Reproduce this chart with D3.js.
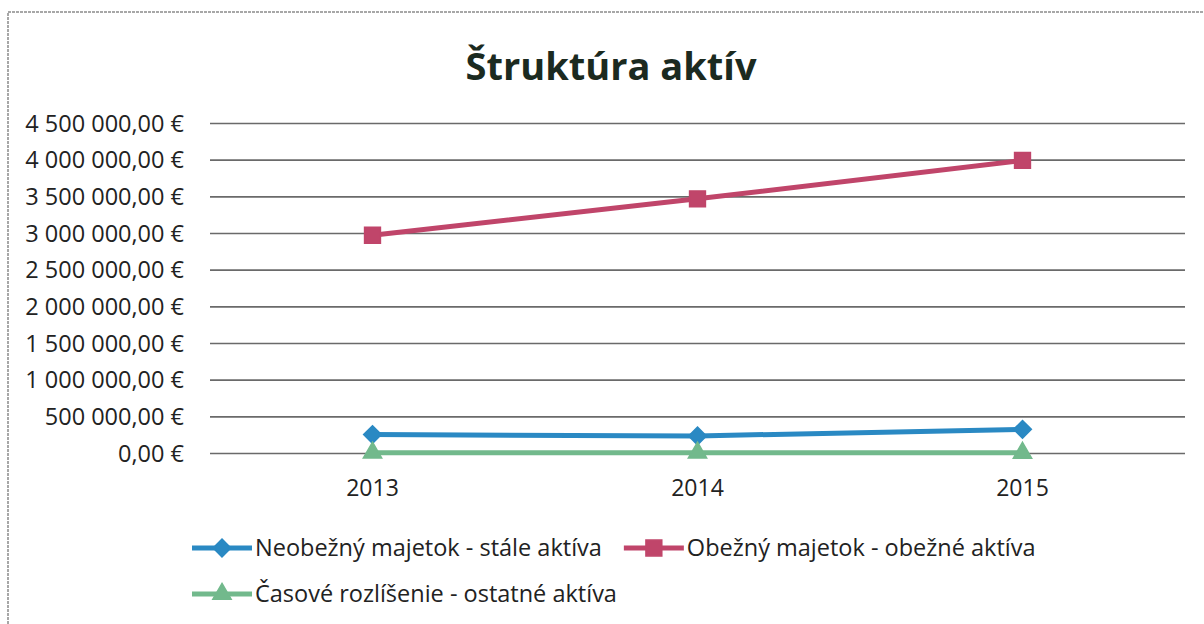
<!DOCTYPE html>
<html><head><meta charset="utf-8">
<script src="https://cdn.jsdelivr.net/npm/d3@7"></script>
<style>
html,body{margin:0;padding:0;background:#fff;}
svg{display:block;}
text{font-family:"Open Sans",sans-serif;}
</style></head>
<body><svg id="c" width="1204" height="624"></svg>
<script>
const title = "Štruktúra aktív";
const years = ["2013", "2014", "2015"];
const seriesNames = ["Neobežný majetok - stále aktíva", "Obežný majetok - obežné aktíva", "Časové rozlíšenie - ostatné aktíva"];
const neobezny = [251000, 232000, 323000];
const obezny = [2970000, 3466000, 3990000];
const casove = [4000, 3000, 2000];
const yTicks = [0, 500000, 1000000, 1500000, 2000000, 2500000, 3000000, 3500000, 4000000, 4500000];
const colors = ["#2a89c3", "#c0456a", "#72b98c"];
const markers = ["diamond", "square", "triangle"];

const svg = d3.select("#c");
const W = 1204, H = 624;
const m = {left: 210, right: 1185, top: 123, bottom: 453};

// border
svg.append("path").attr("d", `M8,${H}V12H${W}`).attr("fill","none")
  .attr("stroke","#8a8a8a").attr("stroke-width",1.5).attr("stroke-dasharray","3,1");

svg.append("text").attr("x", 611).attr("y", 80).attr("text-anchor","middle")
  .attr("font-size", 38).attr("font-weight", 700).attr("fill", "#1b2a20")
  .text(title);

const x = d3.scaleBand().domain(years).range([m.left, m.right]);
const y = d3.scaleLinear().domain([0, 4500000]).range([m.bottom, m.top]);

const fmt = v => {
  const s = d3.format(",.2f")(v);
  return s.replace(/,/g, " ").replace(".", ",") + " €";
};

const yAxis = d3.axisLeft(y).tickValues(yTicks).tickFormat(fmt)
  .tickSize(-(m.right - m.left)).tickPadding(26);
const gy = svg.append("g").attr("transform", `translate(${m.left},0)`).call(yAxis);
gy.select(".domain").remove();
gy.selectAll(".tick line").attr("stroke", "#6a6a6a").attr("stroke-width", 1.7);
gy.selectAll(".tick text").attr("font-size", 23.5).attr("fill", "#222")
  .style("font-family","'Open Sans',sans-serif").attr("dy","0.35em");

const xAxis = d3.axisBottom(x).tickSize(0).tickPadding(27);
const gx = svg.append("g").attr("transform", `translate(0,${m.bottom})`).call(xAxis);
gx.select(".domain").remove();
gx.selectAll(".tick text").attr("font-size", 23).attr("fill", "#222")
  .style("font-family","'Open Sans',sans-serif");

const data = [neobezny, obezny, casove];
const symType = {diamond: d3.symbolDiamond2, square: d3.symbolSquare2, triangle: d3.symbolTriangle2};
const symSize = {diamond: 200, square: 320, triangle: 240};
const line = d3.line().x((d,i) => x(years[i]) + x.bandwidth()/2).y(d => y(d));

function marker(g, type, cx, cy, color) {
  const sym = d3.symbol().type(symType[type]).size(symSize[type]);
  g.append("path").attr("d", sym()).attr("transform", `translate(${cx},${cy})`)
    .attr("fill", color).attr("stroke", color).attr("stroke-width", 1.5);
}

[0,1,2].forEach(si => {
  const g = svg.append("g");
  g.append("path").datum(data[si]).attr("d", line).attr("fill","none")
    .attr("stroke", colors[si]).attr("stroke-width", 5).attr("stroke-linejoin","round");
  data[si].forEach((v,i) => marker(g, markers[si], x(years[i]) + x.bandwidth()/2, y(v), colors[si]));
});

// legend
const legendFont = 23.5;
const legendRows = [[0,1],[2]];
const rowY = [548, 594];
legendRows.forEach((row, ri) => {
  let cx = 192;
  row.forEach(si => {
    const g = svg.append("g");
    g.append("line").attr("x1", cx).attr("x2", cx + 60).attr("y1", rowY[ri]).attr("y2", rowY[ri])
      .attr("stroke", colors[si]).attr("stroke-width", 5);
    marker(g, markers[si], cx + 30, rowY[ri], colors[si]);
    const t = g.append("text").attr("x", cx + 63).attr("y", rowY[ri]).attr("dy","0.35em")
      .attr("font-size", legendFont).attr("fill","#222")
      .text(seriesNames[si]);
    cx += 63 + t.node().getComputedTextLength() + 22;
  });
});
</script></body></html>
